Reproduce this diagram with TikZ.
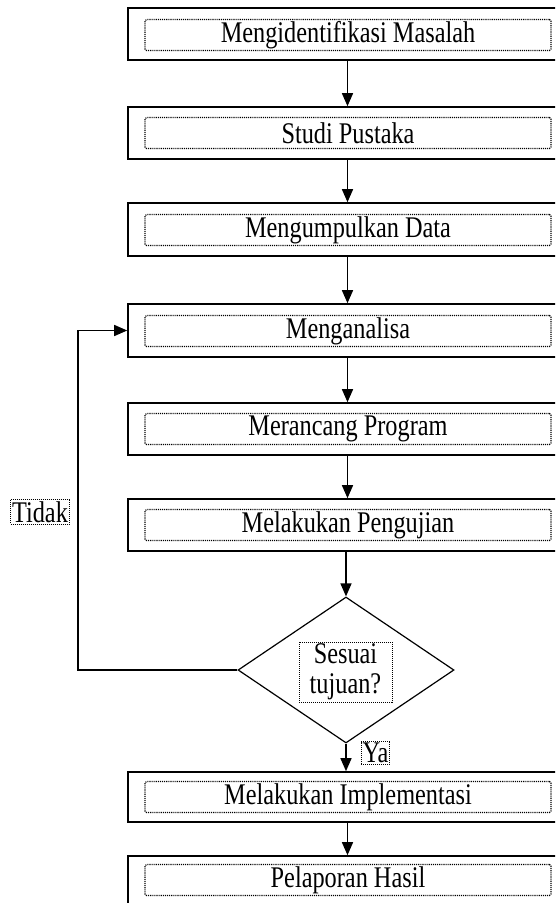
\documentclass[tikz,border=0pt]{standalone}
\usepackage{fontspec}
\setmainfont[FakeStretch=0.81]{Liberation Serif}
\usetikzlibrary{shapes.geometric,arrows.meta}
\tikzset{
  outerbox/.style={draw, line width=1.6pt, minimum width=439pt, inner sep=0pt},
  innerbox/.style={draw, densely dotted, line width=1.1pt, rounded corners=1.5pt, minimum width=406pt, minimum height=31pt, inner sep=0pt, font=\fontsize{30}{30}\selectfont},
  lbl/.style={draw, densely dotted, line width=1pt, inner sep=1.5pt, font=\fontsize{30}{30}\selectfont},
  arr/.style={line width=1.4pt, -{Triangle[width=11pt,length=13pt]}},
  dia/.style={draw, diamond, line width=1.2pt, minimum width=216pt, minimum height=146pt, inner sep=0pt}
}
\begin{document}
\begin{tikzpicture}[x=1pt,y=-1pt]
\useasboundingbox (0,0) rectangle (555,903);
\clip (0,0) rectangle (555,903);
\fill[white] (0,0) rectangle (555,903);
% outer boxes
\node[outerbox, minimum height=52pt] (b1) at (347.5,34) {};
\node[outerbox, minimum height=52pt] (b2) at (347.5,133) {};
\node[outerbox, minimum height=53pt] (b3) at (347.5,229.5) {};
\node[outerbox, minimum height=53pt] (b4) at (347.5,330.5) {};
\node[outerbox, minimum height=52pt] (b5) at (347.5,429) {};
\node[outerbox, minimum height=52pt] (b6) at (347.5,525) {};
\node[outerbox, minimum height=50pt] (b7) at (347.5,797) {};
\node[outerbox, minimum height=52pt] (b8) at (347.5,882) {};
% inner dotted text boxes
\node[innerbox] (t1) at (348,35) {Mengidentifikasi Masalah};
\node[innerbox] (t2) at (348,133) {Studi Pustaka};
\node[innerbox] (t3) at (348,230) {Mengumpulkan Data};
\node[innerbox] (t4) at (348,331) {Menganalisa};
\node[innerbox] (t5) at (348,429) {Merancang Program};
\node[innerbox] (t6) at (348,525) {Melakukan Pengujian};
\node[innerbox] (t7) at (348,797) {Melakukan Implementasi};
\node[innerbox] (t8) at (348,880) {Pelaporan Hasil};
% decision
\node[dia] (d) at (346,670) {};
\node[draw, densely dotted, line width=1pt, minimum width=93pt, minimum height=60pt, inner sep=0pt, align=center, font=\fontsize{30}{30}\selectfont] (dt) at (345.5,672) {Sesuai\\[-0.5pt]tujuan?};
% labels
\node[lbl] (ya) at (375.5,753) {Ya};
\node[lbl] (tidak) at (40,512) {Tidak};
% connectors
\draw[arr] (b1) -- (b2);
\draw[arr] (b2) -- (b3);
\draw[arr] (b3) -- (b4);
\draw[arr] (b4) -- (b5);
\draw[arr] (b5) -- (b6);
\draw[arr] (b6.south -| d.north) -- (d.north);
\draw[arr] (d.south) -- (d.south |- b7.north);
\draw[arr] (b7) -- (b8);
\coordinate (lc) at (78,670);
\draw[arr] (d.west) -- (lc) |- (b4.west);
\end{tikzpicture}
\end{document}
